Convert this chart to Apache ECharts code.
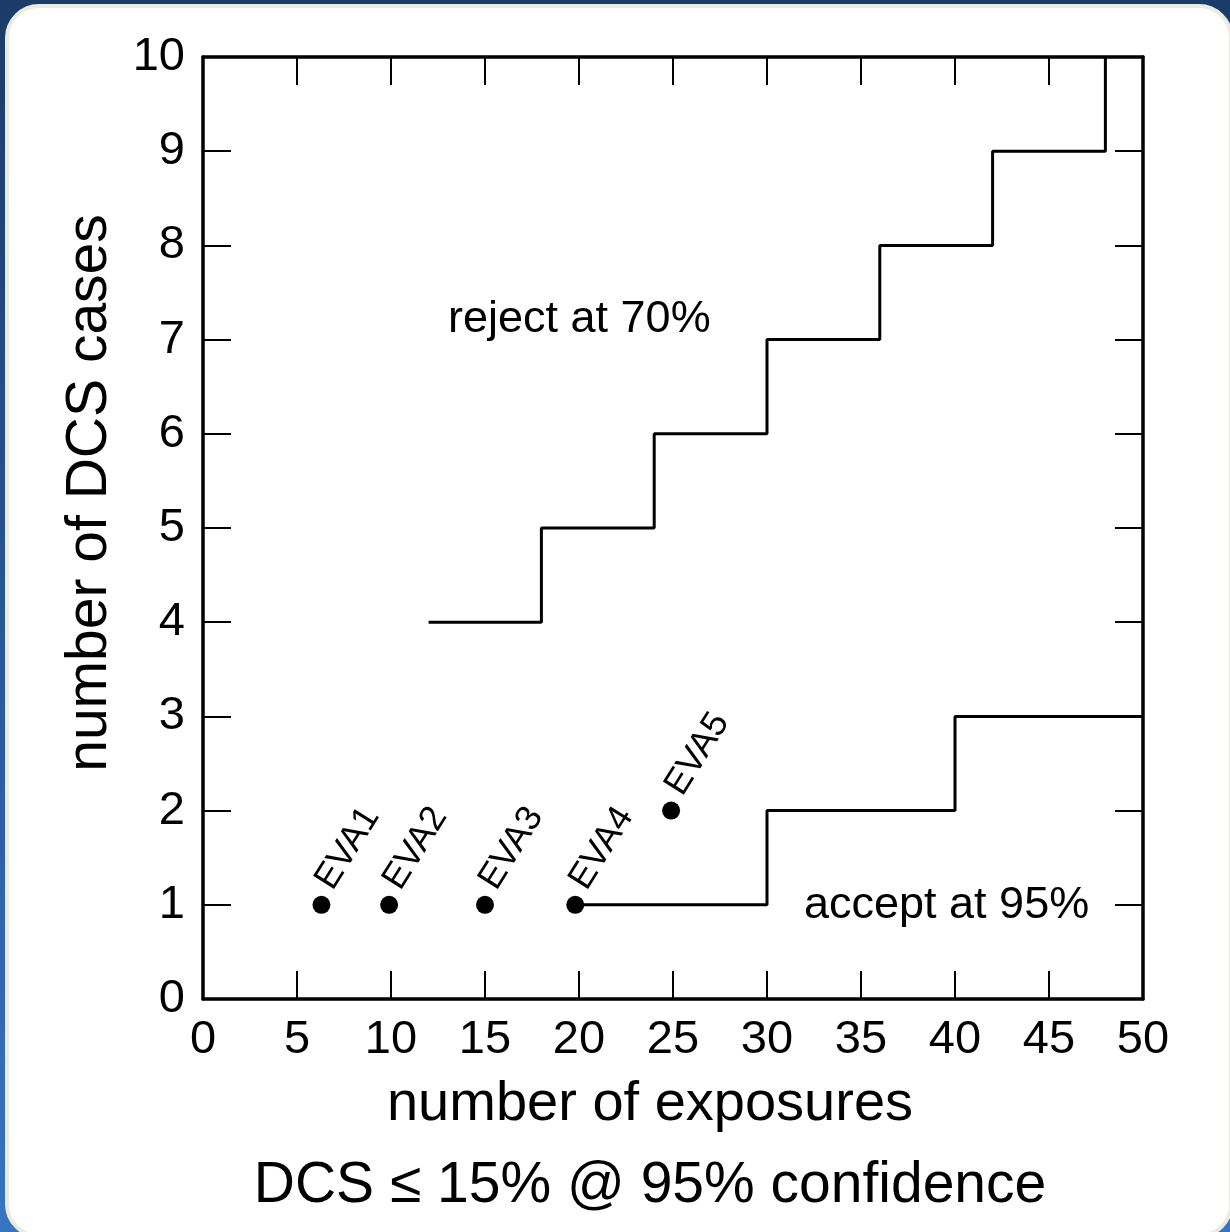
<!DOCTYPE html>
<html><head><meta charset="utf-8">
<script src="https://cdn.jsdelivr.net/npm/echarts@6/dist/echarts.min.js"></script>
<style>
html,body{margin:0;padding:0;width:1230px;height:1232px;overflow:hidden;}
body{background:linear-gradient(180deg,#1b3c68 0%,#2a5c9e 60%,#3675c2 100%);position:relative;}
#panel{position:absolute;left:5px;top:4px;width:1228px;height:1234px;box-sizing:border-box;border:4px solid #ecebe1;border-radius:34px;background:#fff;}
#chart{position:absolute;left:0;top:0;width:1230px;height:1232px;}
</style></head>
<body>
<div id="panel"></div>
<div id="chart"></div>
<script>
// ---- data ----
const xTickValues = [0,5,10,15,20,25,30,35,40,45,50];
const yTickValues = [0,1,2,3,4,5,6,7,8,9,10];
const rejectX = [12,18,24,30,36,42,48];
const rejectY = [4,5,6,7,8,9,10];
const acceptX = [20,30,40,50];
const acceptY = [1,2,3,3];
const evaNames = ['EVA1','EVA2','EVA3','EVA4','EVA5'];
const evaX = [6.3,9.9,15,19.8,24.9];
const evaY = [1,1,1,1,2];
const xTitle = 'number of exposures';
const yTitle = 'number of DCS cases';
const bottomTitle = 'DCS \u2264 15% @ 95% confidence';
const rejectText = 'reject at 70%';
const acceptText = 'accept at 95%';

const FONT = '"Liberation Sans", Arial, Helvetica, sans-serif';
const xMin = xTickValues[0], xMax = xTickValues[xTickValues.length-1], xStep = xTickValues[1]-xTickValues[0];
const yMin = yTickValues[0], yMax = yTickValues[yTickValues.length-1], yStep = yTickValues[1]-yTickValues[0];

const chart = echarts.init(document.getElementById('chart'), null, {renderer:'canvas'});

function axisCommon(showLabel){
  return {
    axisLine:{show:true, onZero:false, lineStyle:{color:'#000', width:3.5}},
    axisTick:{show:true, inside:true, length:28, lineStyle:{color:'#000', width:2}},
    splitLine:{show:false},
    axisLabel:{show:showLabel, color:'#000', fontSize:47, fontFamily:FONT, margin:18}
  };
}

const option = {
  animation:false,
  backgroundColor:'transparent',
  grid:{left:203, right:87, top:57, bottom:233, containLabel:false},
  xAxis:[
    Object.assign({type:'value', position:'bottom', min:xMin, max:xMax, interval:xStep}, axisCommon(true)),
    Object.assign({type:'value', position:'top', min:xMin, max:xMax, interval:xStep}, axisCommon(false))
  ],
  yAxis:[
    Object.assign({type:'value', position:'left', min:yMin, max:yMax, interval:yStep}, axisCommon(true)),
    Object.assign({type:'value', position:'right', min:yMin, max:yMax, interval:yStep}, axisCommon(false))
  ],
  series:[
    {
      type:'line', step:'end', xAxisIndex:0, yAxisIndex:0,
      data: rejectX.map((x,i)=>[x,rejectY[i]]),
      showSymbol:false, symbol:'none',
      lineStyle:{color:'#000', width:3}, clip:false
    },
    {
      type:'line', step:'end', xAxisIndex:0, yAxisIndex:0,
      data: acceptX.map((x,i)=>[x,acceptY[i]]),
      showSymbol:false, symbol:'none',
      lineStyle:{color:'#000', width:3}, clip:false
    },
    {
      type:'scatter', xAxisIndex:0, yAxisIndex:0,
      symbol:'circle', symbolSize:18,
      itemStyle:{color:'#000', opacity:1},
      data: evaNames.map((n,i)=>({name:n, value:[evaX[i], evaY[i]]})),
      label:{
        show:true, formatter:'{b}', position:[27,0], align:'left', verticalAlign:'bottom',
        rotate:58, color:'#000', opacity:1, fontSize:36, fontFamily:FONT
      },
      z:5
    }
  ],
  graphic:[
    {type:'text', x:650, y:1105, style:{text:xTitle, font:'56px '+FONT, fill:'#000', textAlign:'center', textVerticalAlign:'middle'}},
    {type:'text', x:650, y:1186, style:{text:bottomTitle, font:'57px '+FONT, fill:'#000', textAlign:'center', textVerticalAlign:'middle'}},
    {type:'text', x:90, y:493, rotation:Math.PI/2, style:{text:yTitle, font:'57px '+FONT, fill:'#000', textAlign:'center', textVerticalAlign:'middle'}},
    {type:'text', x:448, y:320, style:{text:rejectText, font:'45px '+FONT, fill:'#000', textAlign:'left', textVerticalAlign:'middle'}},
    {type:'text', x:804, y:906, style:{text:acceptText, font:'45px '+FONT, fill:'#000', textAlign:'left', textVerticalAlign:'middle'}}
  ]
};
chart.setOption(option);
</script>
</body></html>
